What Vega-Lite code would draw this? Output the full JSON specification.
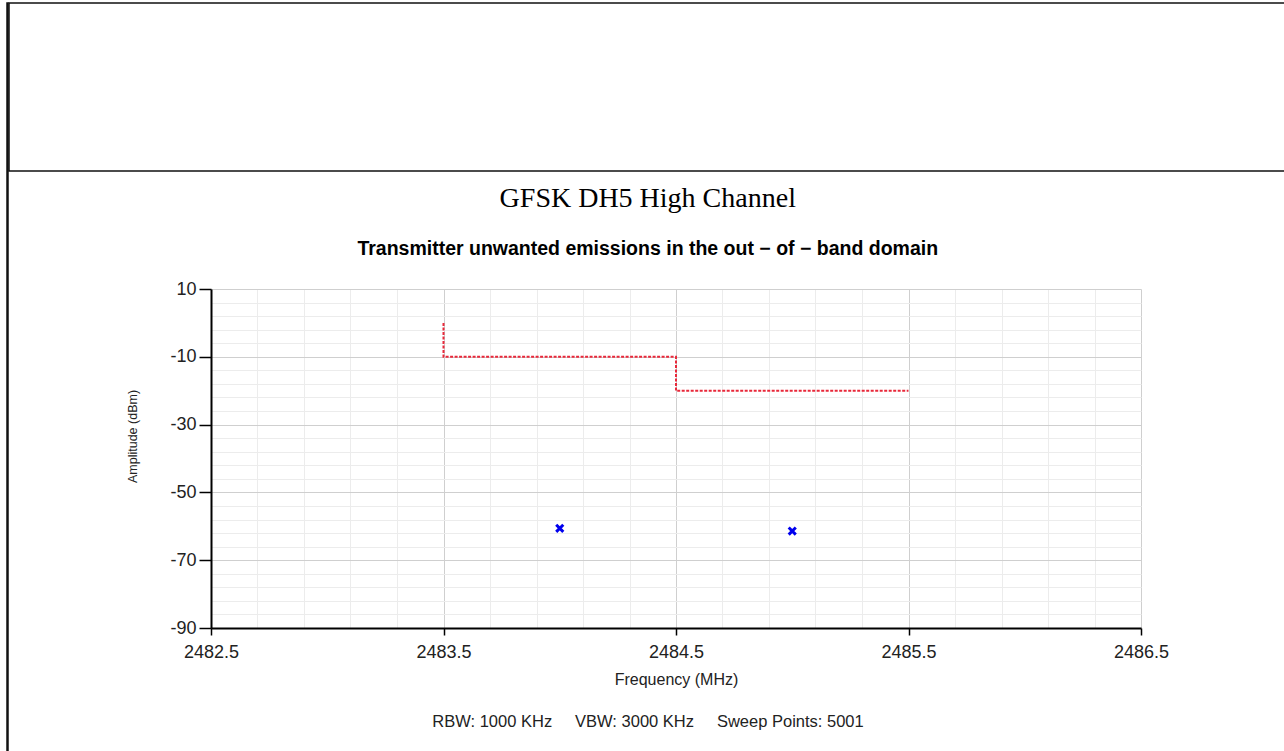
{
  "$schema": "https://vega.github.io/schema/vega-lite/v6.json",
  "background": "white",
  "padding": {"left": 6, "top": 2, "right": 0, "bottom": 0},
  "config": {"view": {"stroke": null}, "font": "Liberation Sans"},
  "datasets": {
    "limit": [
      {"i": 1, "freq": 2483.5, "level": 0},
      {"i": 2, "freq": 2483.5, "level": -10},
      {"i": 3, "freq": 2484.5, "level": -10},
      {"i": 4, "freq": 2484.5, "level": -20},
      {"i": 5, "freq": 2485.5, "level": -20}
    ],
    "peaks": [
      {"freq": 2484.0, "level": -60.6},
      {"freq": 2485.0, "level": -61.4}
    ],
    "footer": [
      {"label": "RBW: 1000 KHz\u00a0\u00a0\u00a0\u00a0\u00a0VBW: 3000 KHz\u00a0\u00a0\u00a0\u00a0\u00a0Sweep Points: 5001"}
    ]
  },
  "spacing": -2,
  "hconcat": [
    {
      "width": 1,
      "height": 749,
      "view": {"stroke": "#111", "strokeWidth": 1.5},
      "data": {"values": []},
      "mark": "point",
      "encoding": {}
    },
    {
      "spacing": 12,
      "vconcat": [
        {
          "width": 1290,
          "height": 168,
          "view": {"stroke": "#111", "strokeWidth": 1.5},
          "data": {"values": []},
          "mark": "point",
          "encoding": {}
        },
        {
          "spacing": 16,
          "hconcat": [
            {
              "width": 101,
              "height": 1,
              "data": {"values": []},
              "mark": "point",
              "encoding": {}
            },
            {
              "width": 930,
              "height": 339,
              "title": {
                "text": "GFSK DH5 High Channel",
                "subtitle": "Transmitter unwanted emissions in the out − of − band domain",
                "frame": "bounds",
                "anchor": "middle",
                "font": "Liberation Serif",
                "fontSize": 28,
                "fontWeight": "normal",
                "color": "#000",
                "subtitleFont": "Liberation Sans",
                "subtitleFontSize": 19.5,
                "subtitleFontWeight": "bold",
                "subtitleColor": "#000",
                "subtitlePadding": 27,
                "offset": 22
              },
              "resolve": {"axis": {"x": "independent", "y": "independent"}},
              "layer": [
                {
                  "data": {"name": "limit"},
                  "mark": {"type": "line", "color": "#e8283a", "strokeWidth": 2, "strokeDash": [3, 1.5]},
                  "encoding": {
                    "x": {
                      "field": "freq", "type": "quantitative",
                      "scale": {"domain": [2482.5, 2486.5], "nice": false, "zero": false},
                      "axis": {
                        "orient": "bottom",
                        "values": [2482.5, 2483.5, 2484.5, 2485.5, 2486.5],
                        "format": ".1f",
                        "grid": true, "gridColor": "#cfcfcf", "gridWidth": 1,
                        "domainColor": "#000", "domainWidth": 2,
                        "tickColor": "#000", "tickWidth": 1.5, "tickSize": 7,
                        "labelFontSize": 18, "labelColor": "#222", "labelPadding": 8,
                        "labelFlush": false,
                        "title": "Frequency (MHz)", "titleFontSize": 16, "titleFontWeight": "normal",
                        "titleColor": "#222", "titlePadding": 10
                      }
                    },
                    "y": {
                      "field": "level", "type": "quantitative",
                      "scale": {"domain": [-90, 10], "nice": false, "zero": false},
                      "axis": {
                        "orient": "left",
                        "values": [10, -10, -30, -50, -70, -90],
                        "labelExpr": "(datum.value < 0 ? '-' : '') + abs(datum.value)",
                        "grid": true, "gridColor": "#cfcfcf", "gridWidth": 1,
                        "domainColor": "#000", "domainWidth": 2,
                        "tickColor": "#000", "tickWidth": 1.5, "tickSize": 12,
                        "labelFontSize": 18, "labelColor": "#222", "labelPadding": 3,
                        "labelFlush": false,
                        "title": "Amplitude (dBm)", "titleFontSize": 12.5, "titleFontWeight": "normal",
                        "titleColor": "#222", "titlePadding": 30, "titleY": 147
                      }
                    },
                    "order": {"field": "i", "type": "quantitative"}
                  }
                },
                {
                  "data": {"name": "peaks"},
                  "mark": {"type": "point", "shape": "M-1,-1L1,1M-1,1L1,-1", "filled": false, "color": "#0000ee", "strokeWidth": 3, "size": 50, "opacity": 1},
                  "encoding": {
                    "x": {
                      "field": "freq", "type": "quantitative",
                      "scale": {"domain": [2482.5, 2486.5], "nice": false, "zero": false},
                      "axis": {
                        "orient": "top",
                        "values": [2482.7, 2482.9, 2483.1, 2483.3, 2483.7, 2483.9, 2484.1, 2484.3, 2484.7, 2484.9, 2485.1, 2485.3, 2485.7, 2485.9, 2486.1, 2486.3],
                        "grid": true, "gridColor": "#ececec", "gridWidth": 1,
                        "domain": false, "ticks": false, "labels": false, "title": null
                      }
                    },
                    "y": {
                      "field": "level", "type": "quantitative",
                      "scale": {"domain": [-90, 10], "nice": false, "zero": false},
                      "axis": {
                        "orient": "right",
                        "values": [6, 2, -2, -6, -14, -18, -22, -26, -34, -38, -42, -46, -54, -58, -62, -66, -74, -78, -82, -86],
                        "grid": true, "gridColor": "#ececec", "gridWidth": 1,
                        "domain": false, "ticks": false, "labels": false, "title": null
                      }
                    }
                  }
                }
              ]
            }
          ]
        },
        {
          "width": 1278,
          "height": 46,
          "data": {"name": "footer"},
          "mark": {"type": "text", "fontSize": 16.5, "color": "#222", "align": "center", "baseline": "middle", "font": "Liberation Sans"},
          "encoding": {"text": {"field": "label", "type": "nominal"}}
        }
      ]
    }
  ]
}
